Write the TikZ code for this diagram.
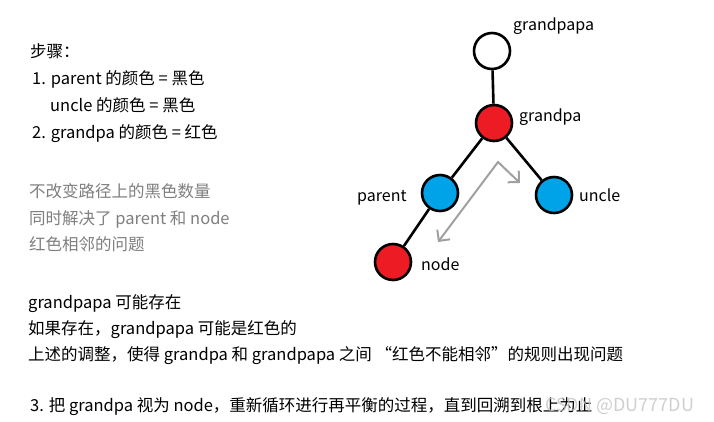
\documentclass[tikz,border=0pt]{standalone}
\usepackage{fontspec}
\setmainfont{Noto Sans CJK SC}
\usetikzlibrary{arrows.meta}
\definecolor{pred}{HTML}{ED1C24}
\definecolor{pblue}{HTML}{00A2E8}
\definecolor{txtgray}{HTML}{7F7F7F}
\definecolor{arrgray}{HTML}{A0A0A0}
\definecolor{wmgray}{HTML}{C4C4C4}
\begin{document}
\begin{tikzpicture}[x=1pt,y=-1pt,
  font=\fontsize{16.5pt}{18pt}\selectfont,
  tn/.style={anchor=base west, inner sep=0pt, text=black},
  gt/.style={tn, text=txtgray},
  lb/.style={anchor=base west, inner sep=0pt, text=black, font=\fontsize{16pt}{18pt}\selectfont},
  rb/.style={circle, draw=black, line width=2.6pt, minimum size=36pt, inner sep=0pt},
  edge/.style={line width=2.6pt},
  rotarrow/.style={arrgray, line width=2pt,
    {Straight Barb[length=8pt,width=16pt]}-{Straight Barb[length=8pt,width=16pt]}}
]
\useasboundingbox[fill=white] (0,0) rectangle (714,421);

% tree nodes
\node[rb, fill=white] (gpp) at (492,51) {};
\node[rb, fill=pred]  (gp)  at (494,123) {};
\node[rb, fill=pblue] (par) at (440,193) {};
\node[rb, fill=pblue] (unc) at (554,195) {};
\node[rb, fill=pred]  (nd)  at (393,262) {};

\draw[edge] (gpp) -- (gp);
\draw[edge] (gp) -- (par);
\draw[edge] (gp) -- (unc);
\draw[edge] (par) -- (nd);

% labels
\node[lb] (lgpp) at (513,30) {grandpapa};
\node[lb] (lgp)  at (519,121) {grandpa};
\node[lb] (lpar) at (357,201) {parent};
\node[lb] (lunc) at (579,201) {uncle};
\node[lb] (lnd)  at (421,270) {node};

% gray rotation arrow
\coordinate (a1) at (438,242);
\coordinate (a2) at (498,162);
\coordinate (a3) at (520,183);
\draw[rotarrow] (a1) -- (a2) -- (a3);

% text
\node[tn] (t1) at (30,57) {步骤：};
\node[tn] (t2) at (32,84) {1. parent 的颜色 = 黑色};
\node[tn] (t3) at (50,111) {uncle 的颜色 = 黑色};
\node[tn] (t4) at (32,138) {2. grandpa 的颜色 = 红色};

\node[gt] (g1) at (29,197) {不改变路径上的黑色数量};
\node[gt] (g2) at (29,224) {同时解决了 parent 和 node};
\node[gt] (g3) at (29,250) {红色相邻的问题};

\node[tn] (b1) at (28,308) {grandpapa 可能存在};
\node[tn] (b2) at (28,334) {如果存在，grandpapa 可能是红色的};
\node[tn] (b3) at (28,360) {上述的调整，使得 grandpa 和 grandpapa 之间 “红色不能相邻”的规则出现问题};

\node[tn] (s3) at (30,411) {3. 把 grandpa 视为 node，重新循环进行再平衡的过程，直到回溯到根上为止};

\node[tn, text=wmgray, opacity=0.8, font=\fontsize{18pt}{20pt}\selectfont] (wm) at (545,411) {CSDN @DU777DU};
\end{tikzpicture}
\end{document}
